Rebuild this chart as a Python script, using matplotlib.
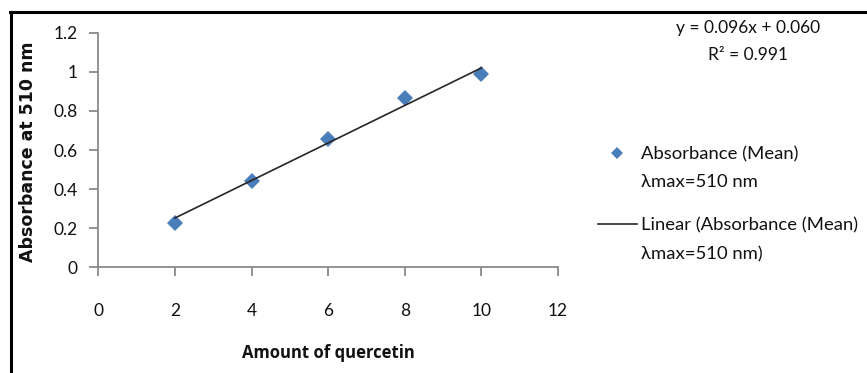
import numpy as np
import matplotlib
matplotlib.use("Agg")
import matplotlib.pyplot as plt
from matplotlib.lines import Line2D
from matplotlib.legend_handler import HandlerLine2D

# Calibration data: quercetin amount vs. mean absorbance at 510 nm
quercetin_amount = [2, 4, 6, 8, 10]
absorbance_mean = [0.225, 0.443, 0.656, 0.867, 0.989]

# Linear trendline parameters
slope = 0.096
intercept = 0.060
r_squared = 0.991

x_ticks = [0, 2, 4, 6, 8, 10, 12]
y_ticks = [0, 0.2, 0.4, 0.6, 0.8, 1.0, 1.2]
y_tick_labels = ["0", "0.2", "0.4", "0.6", "0.8", "1", "1.2"]

series_label = "Absorbance (Mean)\nλmax=510 nm"
trend_label = "Linear (Absorbance (Mean)\nλmax=510 nm)"

FONT = "Lato"
TEXT_COLOR = "#111111"
AXIS_COLOR = "#8a8a8a"
MARKER_COLOR = "#4a7ebb"
FS = 12.5
LEGEND_FS = 13.3

plt.rcParams["font.family"] = [FONT, "DejaVu Sans"]

fig = plt.figure(figsize=(8.67, 3.73), dpi=100)
ax = fig.add_axes([0.1134, 0.2834, 0.5302, 0.6289])

pts, = ax.plot(quercetin_amount, absorbance_mean, linestyle="none",
               marker="D", markersize=7.8, color=MARKER_COLOR,
               markeredgewidth=0, label=series_label, zorder=3)

fit_x = np.array([min(quercetin_amount), max(quercetin_amount)], dtype=float)
fit_y = slope * fit_x + intercept
trend, = ax.plot(fit_x, fit_y, color="#262626", linewidth=1.2,
                 label=trend_label, zorder=4)

ax.set_xlim(0, 12)
ax.set_ylim(0, 1.2)
ax.set_xticks(x_ticks)
ax.set_yticks(y_ticks)
ax.set_yticklabels(y_tick_labels)

for side in ("top", "right"):
    ax.spines[side].set_visible(False)
for side in ("left", "bottom"):
    ax.spines[side].set_color(AXIS_COLOR)
    ax.spines[side].set_linewidth(1.3)

ax.tick_params(axis="both", direction="out", length=6.5, width=1.3,
               color=AXIS_COLOR, labelsize=FS, labelcolor=TEXT_COLOR)
ax.tick_params(axis="x", pad=19)
ax.tick_params(axis="y", pad=8.4)

ax.set_xlabel("Amount of quercetin", fontsize=12, fontweight="bold",
              color=TEXT_COLOR, family=["Open Sans", "DejaVu Sans"])
ax.xaxis.set_label_coords(0.5, -0.365)
ax.xaxis.label.set_va("center")

ax.set_ylabel("Absorbance at 510 nm", fontsize=12.5, fontweight="bold",
              color=TEXT_COLOR, family=["DejaVu Sans"])
ax.yaxis.set_label_coords(-0.153, 0.4915)
ax.yaxis.label.set_va("center")
ax.yaxis.label.set_ha("center")

# Trendline equation and fit quality
fig.text(748 / 867, 1 - 28 / 373, f"y = {slope:.3f}x + {intercept:.3f}",
         ha="center", va="center", fontsize=FS, color=TEXT_COLOR)
fig.text(748 / 867, 1 - 55 / 373, f"R² = {r_squared:.3f}",
         ha="center", va="center", fontsize=FS, color=TEXT_COLOR)


class FirstLineHandler(HandlerLine2D):
    """Align the legend key with the first line of a two-line label."""

    def __init__(self, shift, **kw):
        super().__init__(**kw)
        self.shift = shift

    def create_artists(self, legend, orig_handle, xdescent, ydescent,
                       width, height, fontsize, trans):
        return super().create_artists(legend, orig_handle, xdescent,
                                      ydescent - 2 * self.shift, width,
                                      height, fontsize, trans)


shift = 11.2
leg = fig.legend(handles=[pts, trend], loc="upper left",
                 bbox_to_anchor=(598 / 867, 1 - 146 / 373),
                 frameon=False, fontsize=LEGEND_FS, handlelength=2.1,
                 handletextpad=0.25, borderpad=0, borderaxespad=0,
                 labelspacing=1.45, markerscale=0.72,
                 handler_map={pts: FirstLineHandler(shift, numpoints=1),
                              trend: FirstLineHandler(shift)})
for t in leg.get_texts():
    t.set_color(TEXT_COLOR)
    t.set_linespacing(1.95)

# Outer chart frame
fig.add_artist(Line2D([10 / 867, 1.0], [1 - 12 / 373, 1 - 12 / 373],
                      transform=fig.transFigure, color="black", linewidth=2.2))
fig.add_artist(Line2D([11 / 867, 11 / 867], [0.0, 1 - 12 / 373],
                      transform=fig.transFigure, color="black", linewidth=2.2))

fig.savefig("out.png", dpi=100)
